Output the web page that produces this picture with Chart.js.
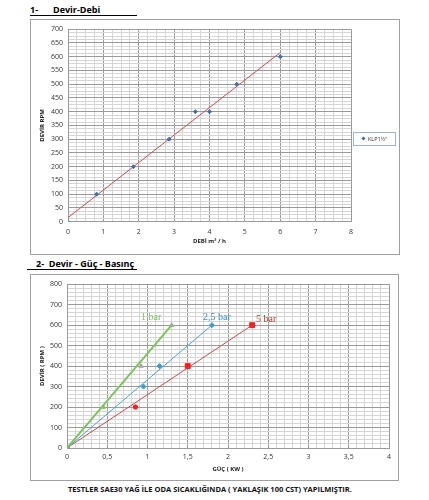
<!DOCTYPE html>
<html>
<head>
<meta charset="utf-8">
<script src="https://cdn.jsdelivr.net/npm/chart.js@4/dist/chart.umd.min.js"></script>
<style>
  body { margin: 0; background: #fff; width: 429px; height: 500px; position: relative; overflow: hidden; font-family: "Open Sans", sans-serif; }
  .title { position: absolute; font-weight: bold; font-size: 9px; color: #000; white-space: nowrap; }
  .uline { position: absolute; height: 1px; background: #000; }
  .box { position: absolute; border: 1px solid #a0a0a0; background: #fff; }
  .lbl { position: absolute; font-family: "Liberation Serif", serif; font-size: 10px; white-space: nowrap; }
  #legend1 { position: absolute; left: 353px; top: 132px; width: 41px; height: 12px; border: 1px solid #9ab8c4; font-size: 5.5px; color: #333; line-height: 12px; white-space: nowrap; }
  #legend1 i { display: inline-block; width: 3px; height: 3px; background: #3d6fb0; transform: rotate(45deg); margin: 0 3px 1px 8px; }
  #footer { position: absolute; left: 68px; top: 484px; font-weight: bold; font-size: 7.5px; color: #111; white-space: nowrap; }
</style>
</head>
<body>
<div class="title" style="left:30px; top:3px;">1-</div>
<div class="title" style="left:53px; top:3px;">Devir-Debi</div>
<div class="uline" style="left:30px; top:15px; width:107px;"></div>

<div class="box" style="left:30px; top:19px; width:368px; height:234px;">
  <canvas id="chart1"></canvas>
</div>
<div id="legend1"><i></i>KLP1½"</div>

<div class="title" style="left:36px; top:257px;">2-&nbsp; Devir - Güç - Basınç</div>
<div class="uline" style="left:27px; top:269px; width:110px;"></div>

<div class="box" style="left:30px; top:274px; width:367px; height:205px;">
  <canvas id="chart2"></canvas>
</div>
<div class="lbl" style="left:141px; top:311px; color:#7cc45e;">1 bar</div>
<div class="lbl" style="left:203px; top:311px; color:#3e8fc4;">2,5 bar</div>
<div class="lbl" style="left:256px; top:313px; color:#c0392b;">5 bar</div>

<div id="footer">TESTLER SAE30 YAĞ İLE ODA SICAKLIĞINDA ( YAKLAŞIK 100 CST) YAPILMIŞTIR.</div>

<script>
// chart 1 data: Devir - Debi
const debi = [0, 0.81, 1.85, 2.86, 3.6, 4.0, 4.77, 6.0]
const devir = [0, 100, 200, 300, 400, 400, 500, 600]
const trendDebi = [0, 6.0] // excel trend line ends
const trendDevir = [15, 615]

// chart 2 data: Devir - Guc - Basinc
const guc1 = [0, 0.45, 0.92, 1.3]
const devir1 = [0, 200, 400, 600]
const guc25 = [0, 0.95, 1.15, 1.8]
const devir25 = [0, 300, 400, 600]
const guc5 = [0, 0.85, 1.5, 2.3]
const devir5 = [0, 200, 400, 600]

const MAJOR = '#9a9a9a'
const MINOR = '#d6d6d6'
const tickFont = { family: 'Open Sans', size: 7 }
const titleFont = { family: 'Open Sans', size: 6, weight: 'bold' }

function pts(xs, ys) { //zip two arrays into {x,y}
    return xs.map((x, i) => ({ x: x, y: ys[i] }))
}
function ends(xs, ys) { //first and last point, for the straight lines
    return [{ x: xs[0], y: ys[0] }, { x: xs[xs.length - 1], y: ys[ys.length - 1] }]
}
function isStep(v, step) {
    return Math.abs(v / step - Math.round(v / step)) < 1e-6
}
function fmt(v) { return String(+v.toFixed(2)).replace('.', ',') }

function axes(o) { //build both scales with minor grid
    return {
        x: {
            type: 'linear', min: 0, max: o.xmax,
            afterFit: s => { s.height = o.xh },
            border: { color: MAJOR },
            grid: { drawTicks: false, color: c => isStep(c.tick.value, o.xmajor) ? MAJOR : MINOR },
            ticks: { stepSize: o.xminor, autoSkip: false, maxRotation: 0, padding: o.xpad, color: '#333', font: tickFont,
                     callback: v => isStep(v, o.xmajor) ? fmt(v) : '' },
            title: { display: true, text: o.xtitle, color: '#222', font: titleFont, padding: { top: 0, bottom: o.xtpad } }
        },
        y: {
            type: 'linear', min: 0, max: o.ymax,
            afterFit: s => { s.width = o.yw },
            border: { color: MAJOR },
            grid: { drawTicks: false, color: c => isStep(c.tick.value, o.ymajor) ? MAJOR : MINOR },
            ticks: { stepSize: o.yminor, autoSkip: false, padding: 5, color: '#333', font: tickFont,
                     callback: v => isStep(v, o.ymajor) ? String(v) : '' },
            title: { display: true, text: o.ytitle, color: '#222', font: titleFont, padding: { top: 8, bottom: 0 } }
        }
    }
}

new Chart(document.getElementById('chart1'), {
    type: 'scatter',
    data: {
        datasets: [{
            label: 'KLP1½"',
            data: pts(debi, devir),
            pointStyle: 'rectRot',
            pointRadius: 2,
            backgroundColor: ['#4bacc6', '#3d6fb0', '#3d6fb0', '#3d6fb0', '#3d6fb0', '#3d6fb0', '#3d6fb0', '#3d6fb0'],
            borderColor: ['#4bacc6', '#3d6fb0', '#3d6fb0', '#3d6fb0', '#3d6fb0', '#3d6fb0', '#3d6fb0', '#3d6fb0']
        }, {
            label: 'trend',
            data: pts(trendDebi, trendDevir),
            showLine: true,
            pointRadius: 0,
            borderColor: '#c0504d',
            borderWidth: 1
        }]
    },
    options: {
        responsive: true, maintainAspectRatio: false, animation: false,
        layout: { padding: { left: 0, right: 48, top: 8, bottom: 0 } },
        plugins: { legend: { display: false }, tooltip: { enabled: false } },
        scales: axes({ xmax: 8, xmajor: 1, xminor: 0.25, xh: 32.3, xpad: 6, xtpad: 8.7, xtitle: 'DEBİ m³ / h',
                       ymax: 700, ymajor: 50, yminor: 12.5, yw: 37, ytitle: 'DEVİR RPM' })
    }
});

new Chart(document.getElementById('chart2'), {
    type: 'scatter',
    data: {
        datasets: [{
            label: '1 bar line', data: ends(guc1, devir1), showLine: true, pointRadius: 0,
            borderColor: '#7cc45e', borderWidth: 2
        }, {
            label: '2,5 bar line', data: ends(guc25, devir25), showLine: true, pointRadius: 0,
            borderColor: '#4aa3d6', borderWidth: 1
        }, {
            label: '5 bar line', data: ends(guc5, devir5), showLine: true, pointRadius: 0,
            borderColor: '#c0504d', borderWidth: 1
        }, {
            label: '1 bar', data: pts(guc1, devir1),
            pointStyle: 'triangle', pointRadius: 2.5,
            backgroundColor: ['#f07b3f', '#7cc45e', '#a8a8a8', '#a8a8a8'],
            borderColor: ['#f07b3f', '#7cc45e', '#a8a8a8', '#a8a8a8']
        }, {
            label: '2,5 bar', data: pts(guc25, devir25),
            pointStyle: 'rectRot', pointRadius: 2.5,
            backgroundColor: '#3a9ad6', borderColor: '#3a9ad6'
        }, {
            label: '5 bar', data: pts(guc5, devir5),
            pointStyle: ['circle', 'circle', 'rect', 'rect'], pointRadius: [2.5, 2.2, 3.5, 3.5],
            backgroundColor: ['#f07b3f', '#ff1a1a', '#ff1a1a', '#ff1a1a'],
            borderColor: ['#f07b3f', '#ff1a1a', '#ff1a1a', '#ff1a1a']
        }]
    },
    options: {
        responsive: true, maintainAspectRatio: false, animation: false,
        layout: { padding: { left: 0, right: 9, top: 8, bottom: 0 } },
        plugins: { legend: { display: false }, tooltip: { enabled: false } },
        scales: axes({ xmax: 4, xmajor: 0.5, xminor: 0.1, xh: 32, xpad: 4.5, xtpad: 7.4, xtitle: 'GÜÇ ( KW )',
                       ymax: 800, ymajor: 100, yminor: 20, yw: 36, ytitle: 'DEVİR ( RPM )' })
    }
});
</script>
</body>
</html>
